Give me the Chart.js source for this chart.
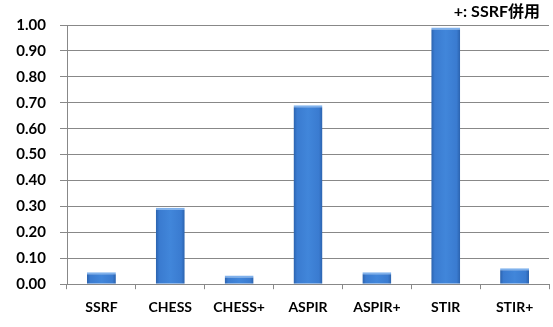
<!DOCTYPE html>
<html>
<head>
<meta charset="utf-8">
<script src="https://cdn.jsdelivr.net/npm/chart.js@4/dist/chart.umd.min.js"></script>
<style>
  html, body { margin:0; padding:0; background:#fff; }
  #wrap { width:553px; height:327px; position:relative; }
</style>
</head>
<body>
<div id="wrap"><canvas id="ratioChart"></canvas></div>
<script>
// ---------- data ----------
const methods = ['SSRF','CHESS','CHESS+','ASPIR','ASPIR+','STIR','STIR+'];
const ratios  = [0.046, 0.295, 0.034, 0.69, 0.046, 0.99, 0.062];
const yTicks  = [0,0.1,0.2,0.3,0.4,0.5,0.6,0.7,0.8,0.9,1.0];
const noteText = '+: SSRF併用';

const FONT = 'Lato, "Noto Sans CJK JP", sans-serif';
const GRID = '#888888';
const BAR_W = 0.42;

// horizontal shading on each bar (darker at the sides)
function barFill(c){
  const xs = c.chart.scales && c.chart.scales.x;
  if(!xs || !xs.width) return '#3b7cd2';
  const cx = xs.getPixelForValue(c.dataIndex);
  const half = xs.width / methods.length * BAR_W / 2;
  const g = c.chart.ctx.createLinearGradient(cx-half, 0, cx+half, 0);
  g.addColorStop(0, '#2b62ad');
  g.addColorStop(0.12, '#3a7bd0');
  g.addColorStop(0.5, '#4186da');
  g.addColorStop(0.88, '#3a7bd0');
  g.addColorStop(1, '#2b62ad');
  return g;
}

// "+: SSRF併用" note above the plot, right side
const notePlugin = {
  id: 'note',
  afterDraw(chart){
    const {ctx, chartArea} = chart;
    ctx.save();
    ctx.font = 'bold 16px ' + FONT;
    ctx.fillStyle = '#000';
    ctx.textAlign = 'right';
    ctx.textBaseline = 'alphabetic';
    ctx.fillText(noteText, chartArea.right - 9, 17);
    ctx.restore();
  }
};

new Chart(document.getElementById('ratioChart'), {
  type: 'bar',
  data: {
    labels: methods,
    datasets: [{
      data: ratios,
      backgroundColor: barFill,
      borderColor: '#7fb1ec',
      borderWidth: {top:2, left:0, right:0, bottom:0},
      borderSkipped: 'bottom',
      barPercentage: BAR_W,
      categoryPercentage: 1.0
    }]
  },
  options: {
    responsive: true,
    maintainAspectRatio: false,
    animation: false,
    layout: { padding: {top:25, right:4, left:0, bottom:1} },
    plugins: {
      legend: { display:false },
      tooltip: { enabled:false }
    },
    scales: {
      x: {
        grid: { offset:true, drawOnChartArea:false, drawTicks:true, tickLength:5, color:GRID },
        border: { color:GRID, width:1 },
        ticks: { color:'#000', font:{ family:FONT, size:14, weight:'bold' }, padding:10 }
      },
      y: {
        min: 0, max: 1,
        afterFit(s){ s.width = 67; },
        afterBuildTicks(s){ s.ticks = yTicks.map(v => ({value:v})); },
        grid: { color:GRID, lineWidth:1, tickLength:7 },
        border: { color:GRID, width:1 },
        ticks: {
          color:'#000', padding:14,
          font:{ family:FONT, size:15, weight:'bold' },
          callback: v => Number(v).toFixed(2)
        }
      }
    }
  },
  plugins: [notePlugin]
});
</script>
</body>
</html>
